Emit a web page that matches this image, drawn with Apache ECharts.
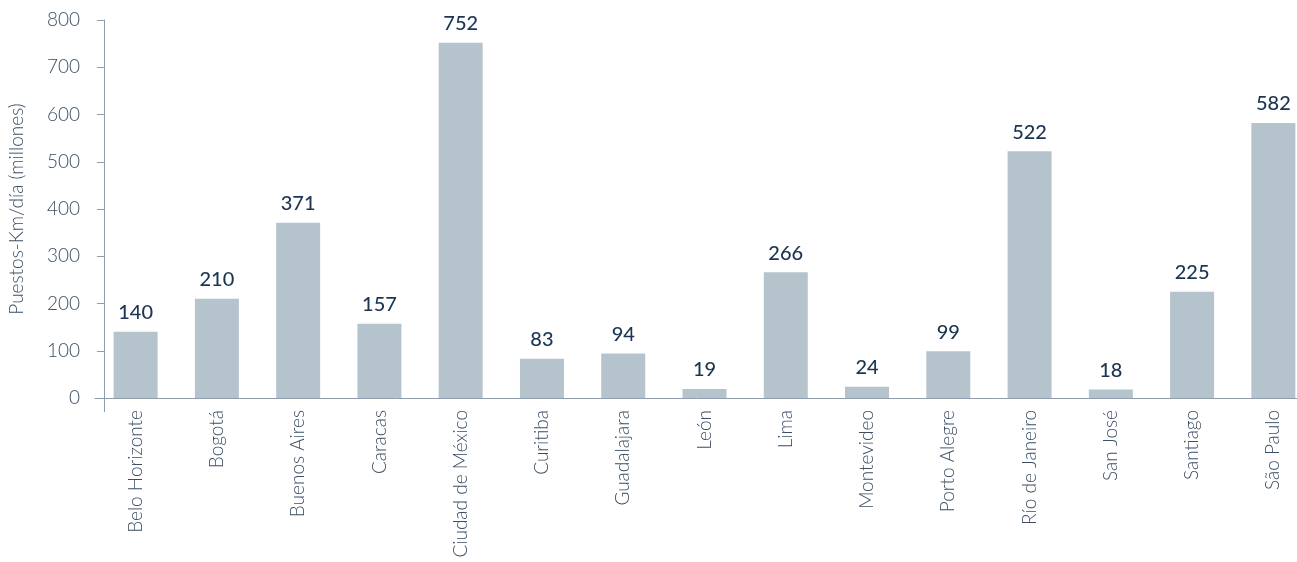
<!DOCTYPE html>
<html>
<head>
<meta charset="utf-8">
<style>
  html, body { margin: 0; padding: 0; background: #ffffff; }
  #chart { width: 1297px; height: 562px; }
</style>
<script src="https://cdn.jsdelivr.net/npm/echarts@6/dist/echarts.min.js"></script>
</head>
<body>
<div id="chart"></div>
<script>
// Ciudades y capacidad diaria ofrecida
const ciudades = [
  'Belo Horizonte', 'Bogotá', 'Buenos Aires', 'Caracas', 'Ciudad de México',
  'Curitiba', 'Guadalajara', 'León', 'Lima', 'Montevideo',
  'Porto Alegre', 'Río de Janeiro', 'San José', 'Santiago', 'São Paulo'
];
const puestosKm = [140, 210, 371, 157, 752, 83, 94, 19, 266, 24, 99, 522, 18, 225, 582];
const ejeY = { min: 0, max: 800, interval: 100 };
const tituloEjeY = 'Puestos-Km/día (millones)';

const FONT = 'Lato, "Open Sans", sans-serif';
const AXIS = '#8e9cab';
const TEXT = '#3b4e63';
const VALUE = '#1b3552';
const BAR = '#b5c3cc';

const chart = echarts.init(document.getElementById('chart'), null, { renderer: 'canvas' });

chart.setOption({
  animation: false,
  grid: {
    left: 95, width: 1219, top: 20, bottom: 164,
    containLabel: false, outerBoundsMode: 'none'
  },
  xAxis: {
    type: 'category',
    data: ciudades,
    boundaryGap: true,
    axisLine: { show: true, lineStyle: { color: AXIS, width: 1 } },
    axisTick: { show: false },
    axisLabel: {
      rotate: 90,
      margin: 12,
      color: TEXT,
      fontFamily: FONT,
      fontSize: 19,
      fontWeight: 300,
      interval: 0
    }
  },
  yAxis: {
    type: 'value',
    min: ejeY.min,
    max: ejeY.max,
    interval: ejeY.interval,
    offset: -9,
    name: tituloEjeY,
    nameLocation: 'middle',
    nameRotate: 90,
    nameGap: 78,
    nameTextStyle: { color: TEXT, fontFamily: FONT, fontSize: 19, fontWeight: 300 },
    splitLine: { show: false },
    axisLine: { show: true, lineStyle: { color: AXIS, width: 1 } },
    axisTick: { show: true, length: 7, lineStyle: { color: AXIS } },
    axisLabel: { color: TEXT, fontFamily: FONT, fontSize: 19, fontWeight: 300, margin: 24 }
  },
  series: [{
    type: 'bar',
    data: puestosKm,
    barWidth: 44,
    itemStyle: { color: BAR },
    label: {
      show: true,
      position: 'top',
      distance: 9,
      color: VALUE,
      fontFamily: FONT,
      fontSize: 20,
      fontWeight: 500
    }
  }]
});

// short downward continuation of the value axis below the baseline
const origen = chart.convertToPixel({ gridIndex: 0 }, [0, 0]);
chart.setOption({
  graphic: [{
    type: 'line',
    shape: { x1: 104.5, y1: origen[1], x2: 104.5, y2: origen[1] + 14 },
    style: { stroke: AXIS, lineWidth: 1 }
  }]
});
</script>
</body>
</html>
